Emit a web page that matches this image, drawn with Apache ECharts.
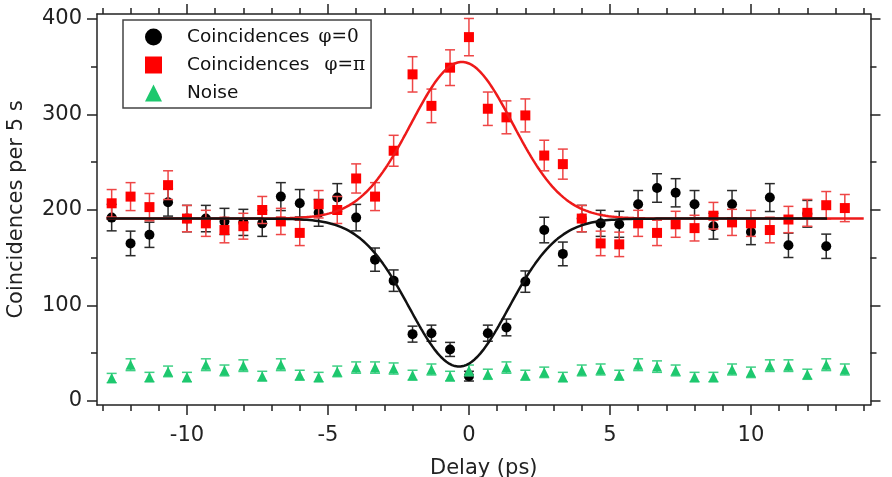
<!DOCTYPE html>
<html>
<head>
<meta charset="utf-8">
<script src="https://cdn.jsdelivr.net/npm/echarts@6/dist/echarts.min.js"></script>
<style>
  html, body { margin: 0; padding: 0; background: #fff; }
  #main { width: 892px; height: 477px; }
</style>
</head>
<body>
<div id="main"></div>
<script>
// NOTE - Data

const delays = [-12.67, -12.00, -11.33, -10.67, -10.00, -9.33, -8.67, -8.00, -7.33, -6.67,
  -6.00, -5.33, -4.67, -4.00, -3.33, -2.67, -2.00, -1.33, -0.67, 0.00,
  0.67, 1.33, 2.00, 2.67, 3.33, 4.00, 4.67, 5.33, 6.00, 6.67,
  7.33, 8.00, 8.67, 9.33, 10.00, 10.67, 11.33, 12.00, 12.67, 13.33];

// phi = 0 (black), 39 points, last delay not measured
const countsZero = [192, 165, 174, 208, 191, 191, 188, 187, 186, 214,
  207, 197, 213, 192, 148, 126, 70, 71, 54, 26,
  71, 77, 125, 179, 154, 191, 186, 185, 206, 223,
  218, 206, 183, 206, 177, 213, 163, 196, 162];

// phi = pi (red)
const countsPi = [207, 214, 203, 226, 191, 186, 179, 183, 200, 188,
  176, 206, 200, 233, 214, 262, 342, 309, 349, 381,
  306, 297, 299, 257, 248, 191, 165, 164, 186, 176,
  185, 181, 194, 187, 186, 179, 190, 197, 205, 202];

const noise = [24, 38, 25, 31, 25, 38, 32, 37, 26, 38,
  27, 25, 31, 35, 35, 34, 27, 33, 26, 32,
  28, 35, 27, 30, 25, 32, 33, 27, 38, 36,
  32, 25, 25, 33, 30, 37, 37, 28, 38, 33];

// Gaussian fits: [baseline, amplitude, centre, sigma, from, to]
const fitZero = [191, -155, -0.35, 1.75, -12.85, 12.7];
const fitPi = [191, 164, -0.25, 1.8, -12.85, 14.0];

const xMajorTicks = [-10, -5, 0, 5, 10];
const xMinorTicks = [-13, -12, -11, -9, -8, -7, -6, -4, -3, -2, -1, 1, 2, 3, 4, 6, 7, 8, 9, 11, 12, 13, 14];
const yMajorTicks = [0, 100, 200, 300, 400];
const yMinorTicks = [50, 150, 250, 350];

const names = ['Coincidences \u03c6=0', 'Coincidences  \u03c6=\u03c0', 'Noise'];

// NOTE - Helpers

function fitCurve(p) {
  const pts = [];
  for (let x = p[4]; x <= p[5] + 1e-9; x += 0.05) {
    const d = x - p[2];
    pts.push([x, p[0] + p[1] * Math.exp(-d * d / (2 * p[3] * p[3]))]);
  }
  return pts;
}

// counting statistics: error bar = sqrt(N)
function errorSeries(ys, color, z) {
  return {
    type: 'custom',
    silent: true,
    z: z,
    data: ys.map((y, i) => [delays[i], y, Math.sqrt(y)]),
    encode: { x: 0, y: 1 },
    renderItem: function (params, api) {
      const x = api.value(0), y = api.value(1), e = api.value(2);
      const hi = api.coord([x, y + e]);
      const lo = api.coord([x, y - e]);
      const w = 5;
      const st = { stroke: color, lineWidth: 1.5 };
      return {
        type: 'group',
        children: [
          { type: 'line', shape: { x1: hi[0], y1: hi[1], x2: lo[0], y2: lo[1] }, style: st },
          { type: 'line', shape: { x1: hi[0] - w, y1: hi[1], x2: hi[0] + w, y2: hi[1] }, style: st },
          { type: 'line', shape: { x1: lo[0] - w, y1: lo[1], x2: lo[0] + w, y2: lo[1] }, style: st }
        ]
      };
    }
  };
}

function pairs(ys) {
  return ys.map((y, i) => [delays[i], y]);
}

const font = 'DejaVu Sans';
const axisColor = '#222';

function xAx(pos, ticks, len, line, labels) {
  return {
    type: 'value', position: pos, min: -13.19, max: 14.24,
    axisLine: { show: line, onZero: false, lineStyle: { color: axisColor, width: 1.5 } },
    axisTick: { show: true, inside: false, length: len, customValues: ticks, lineStyle: { color: axisColor, width: 1.5 } },
    axisLabel: labels ? { show: true, customValues: ticks, margin: 20, color: axisColor, fontFamily: font, fontSize: 21 } : { show: false },
    splitLine: { show: false }
  };
}

function yAx(pos, ticks, len, line, labels) {
  return {
    type: 'value', position: pos, min: -4.2, max: 405.2,
    axisLine: { show: line, onZero: false, lineStyle: { color: axisColor, width: 1.5 } },
    axisTick: { show: true, inside: false, length: len, customValues: ticks, lineStyle: { color: axisColor, width: 1.5 } },
    axisLabel: labels ? { show: true, customValues: ticks, margin: 15, color: axisColor, fontFamily: font, fontSize: 21 } : { show: false },
    splitLine: { show: false }
  };
}

// NOTE - Chart

var myChart = echarts.init(document.getElementById('main'));

const bottomX = xAx('bottom', xMajorTicks, 10, true, true);
bottomX.name = 'Delay (ps)';
bottomX.nameLocation = 'middle';
bottomX.nameGap = 53;
bottomX.nameTextStyle = { color: axisColor, fontFamily: font, fontSize: 21 };

const leftY = yAx('left', yMajorTicks, 10, true, true);
leftY.name = 'Coincidences per 5 s';
leftY.nameLocation = 'middle';
leftY.nameGap = 70;
leftY.nameTextStyle = { color: axisColor, fontFamily: font, fontSize: 21 };

var option = {
  animation: false,
  backgroundColor: '#fff',
  grid: { left: 97, right: 21.5, top: 14, bottom: 72, containLabel: false, outerBoundsMode: 'none' },
  legend: {
    orient: 'vertical',
    left: 123,
    top: 20,
    padding: [7, 6, 5, 22],
    itemWidth: 17,
    itemHeight: 17,
    itemGap: 8,
    borderColor: '#444',
    borderWidth: 1.5,
    data: [
      { name: names[0], icon: 'circle' },
      { name: names[1], icon: 'rect' },
      { name: names[2], icon: 'triangle' }
    ],
    formatter: function (n) {
      if (n === names[0]) return '{s|}{a|Coincidences}{b|\u03c6=0}';
      if (n === names[1]) return '{s|}{a|Coincidences}{c|\u03c6=\u03c0}';
      return '{s|}{a|Noise}';
    },
    textStyle: {
      color: '#111',
      lineHeight: 20,
      rich: {
        s: { width: 20 },
        a: { fontFamily: font, fontSize: 18.5, color: '#111' },
        b: { fontFamily: 'DejaVu Serif', fontSize: 18.5, color: '#111', padding: [0, 0, 0, 9] },
        c: { fontFamily: 'DejaVu Serif', fontSize: 18.5, color: '#111', padding: [0, 0, 0, 15] }
      }
    }
  },
  xAxis: [
    bottomX,
    xAx('bottom', xMinorTicks, 6, false, false),
    xAx('top', xMajorTicks, 10, true, false),
    xAx('top', xMinorTicks, 6, false, false)
  ],
  yAxis: [
    leftY,
    yAx('left', yMinorTicks, 6, false, false),
    yAx('right', yMajorTicks, 10, true, false),
    yAx('right', yMinorTicks, 6, false, false)
  ],
  series: [
    errorSeries(countsZero, '#2a2a2a', 2),
    {
      name: names[0], type: 'scatter', symbol: 'circle', symbolSize: 10, z: 3,
      itemStyle: { color: '#000', opacity: 1 },
      data: pairs(countsZero)
    },
    errorSeries(countsPi, '#ee4646', 4),
    {
      name: names[1], type: 'scatter', symbol: 'rect', symbolSize: 10, z: 5,
      itemStyle: { color: '#ff0000', opacity: 1 },
      data: pairs(countsPi)
    },
    errorSeries(noise, '#3fd085', 6),
    {
      name: names[2], type: 'scatter', symbol: 'triangle', symbolSize: 10, z: 7,
      itemStyle: { color: '#1dc86e', opacity: 1 },
      data: pairs(noise)
    },
    {
      name: 'fit pi', type: 'line', showSymbol: false, silent: true, z: 8,
      lineStyle: { color: '#ee1a1a', width: 2.5 },
      data: fitCurve(fitPi)
    },
    {
      name: 'fit zero', type: 'line', showSymbol: false, silent: true, z: 9,
      lineStyle: { color: '#111', width: 2.5 },
      data: fitCurve(fitZero)
    }
  ]
};

myChart.setOption(option);
</script>
</body>
</html>
